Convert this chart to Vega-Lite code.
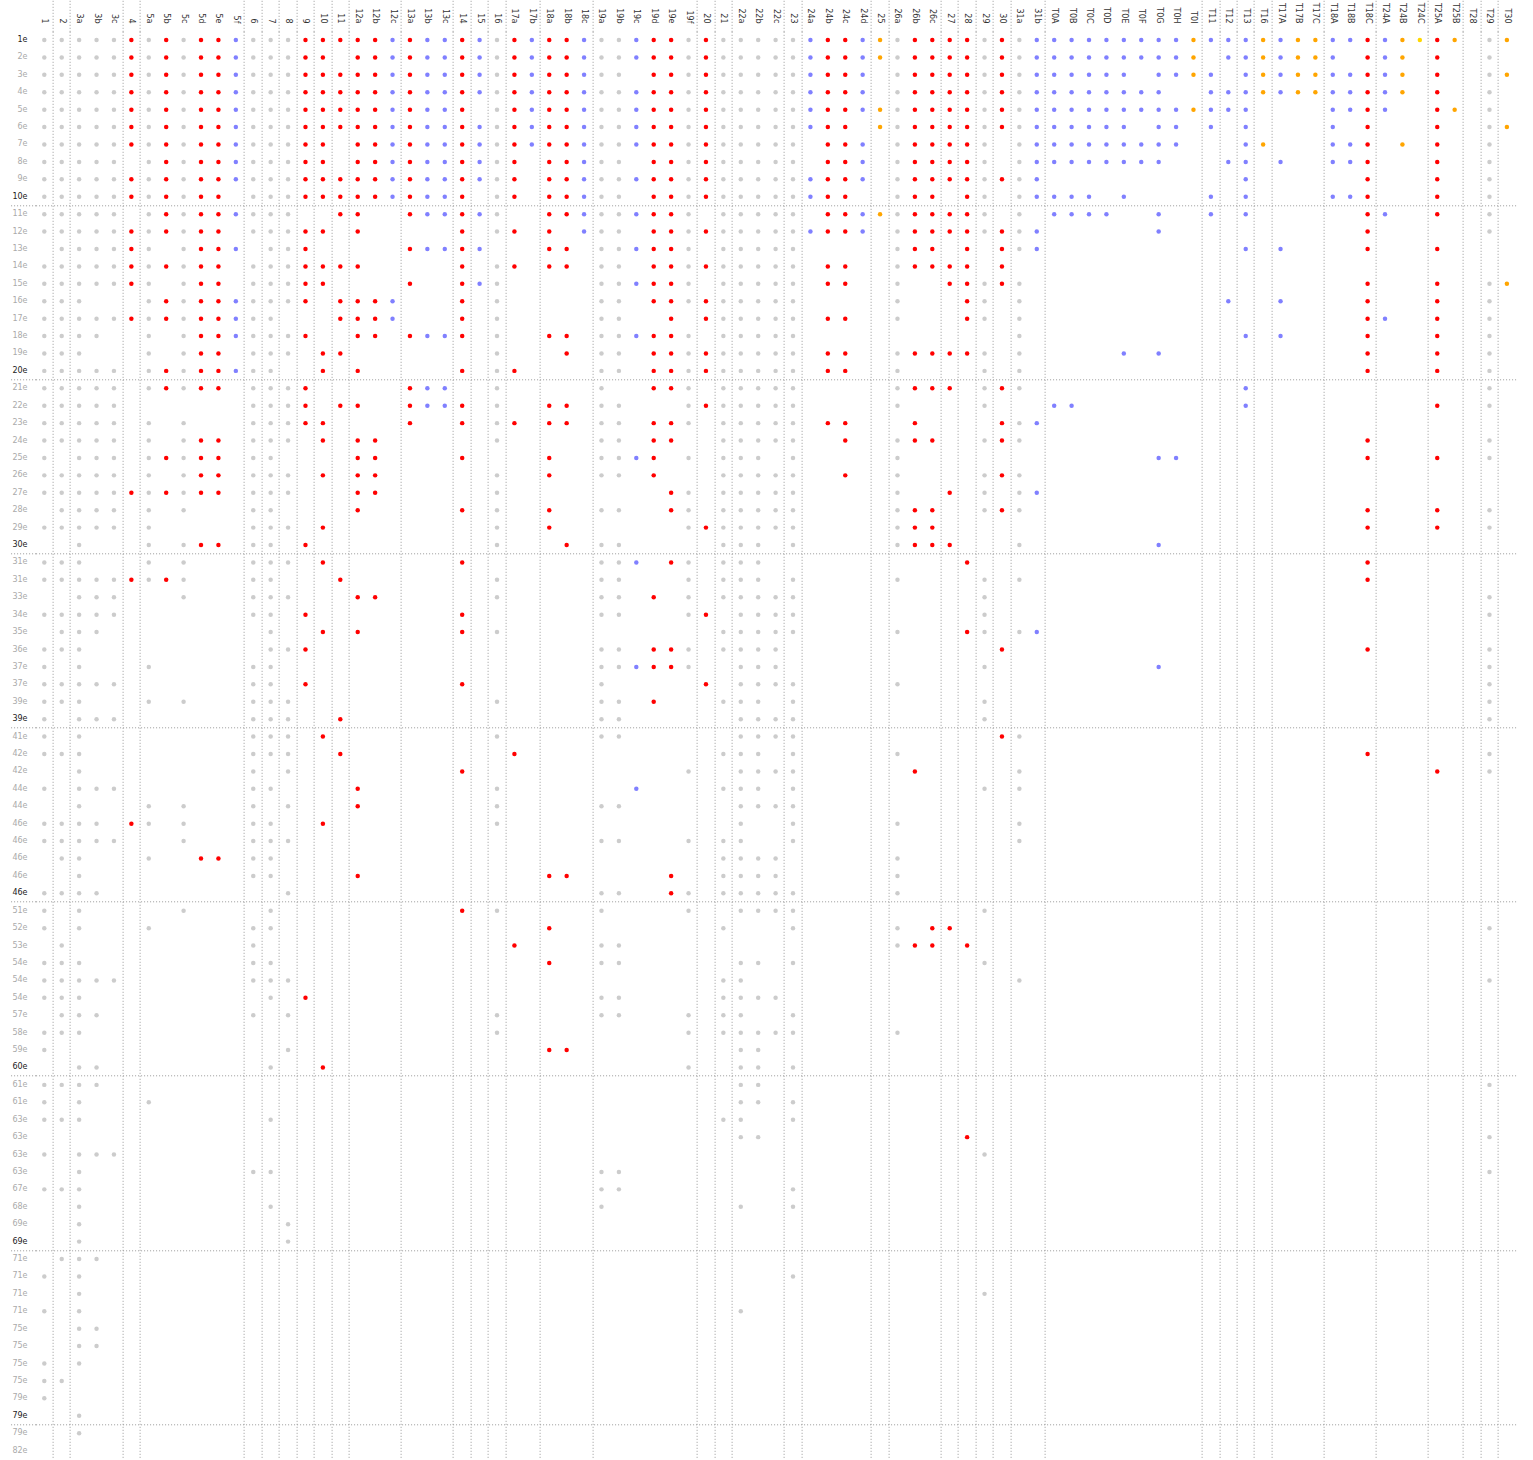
{
"$schema": "https://vega.github.io/schema/vega-lite/v6.json",
"width": 1480,
"height": 1428,
"autosize": "none",
"padding": {"left": 35.6, "top": 31.3, "right": 17.4, "bottom": 0.7},
"background": "white",
"config": {"view": {"stroke": null}},
"data": {"values": [
{"r":1,"c":"1","v":"g"},{"r":1,"c":"2","v":"g"},{"r":1,"c":"3a","v":"g"},{"r":1,"c":"3b","v":"g"},{"r":1,"c":"3c","v":"g"},{"r":1,"c":"4","v":"r"},{"r":1,"c":"5a","v":"g"},{"r":1,"c":"5b","v":"r"},{"r":1,"c":"5c","v":"g"},{"r":1,"c":"5d","v":"r"},{"r":1,"c":"5e","v":"r"},{"r":1,"c":"5f","v":"b"},{"r":1,"c":"6","v":"g"},{"r":1,"c":"7","v":"g"},{"r":1,"c":"8","v":"g"},{"r":1,"c":"9","v":"r"},{"r":1,"c":"10","v":"r"},{"r":1,"c":"11","v":"r"},{"r":1,"c":"12a","v":"r"},{"r":1,"c":"12b","v":"r"},{"r":1,"c":"12c","v":"b"},{"r":1,"c":"13a","v":"r"},{"r":1,"c":"13b","v":"b"},{"r":1,"c":"13c","v":"b"},{"r":1,"c":"14","v":"r"},{"r":1,"c":"15","v":"b"},{"r":1,"c":"16","v":"g"},{"r":1,"c":"17a","v":"r"},{"r":1,"c":"17b","v":"b"},{"r":1,"c":"18a","v":"r"},{"r":1,"c":"18b","v":"r"},{"r":1,"c":"18c","v":"b"},{"r":1,"c":"19a","v":"g"},{"r":1,"c":"19b","v":"g"},{"r":1,"c":"19c","v":"b"},{"r":1,"c":"19d","v":"r"},{"r":1,"c":"19e","v":"r"},{"r":1,"c":"19f","v":"g"},{"r":1,"c":"20","v":"r"},{"r":1,"c":"21","v":"g"},{"r":1,"c":"22a","v":"g"},{"r":1,"c":"22b","v":"g"},{"r":1,"c":"22c","v":"g"},{"r":1,"c":"23","v":"g"},{"r":1,"c":"24a","v":"b"},{"r":1,"c":"24b","v":"r"},{"r":1,"c":"24c","v":"r"},{"r":1,"c":"24d","v":"b"},{"r":1,"c":"25","v":"o"},{"r":1,"c":"26a","v":"g"},{"r":1,"c":"26b","v":"r"},{"r":1,"c":"26c","v":"r"},{"r":1,"c":"27","v":"r"},{"r":1,"c":"28","v":"r"},{"r":1,"c":"29","v":"g"},{"r":1,"c":"30","v":"r"},{"r":1,"c":"31a","v":"g"},{"r":1,"c":"31b","v":"b"},{"r":1,"c":"T0A","v":"b"},{"r":1,"c":"T0B","v":"b"},{"r":1,"c":"T0C","v":"b"},{"r":1,"c":"T0D","v":"b"},{"r":1,"c":"T0E","v":"b"},{"r":1,"c":"T0F","v":"b"},{"r":1,"c":"T0G","v":"b"},{"r":1,"c":"T0H","v":"b"},{"r":1,"c":"T0I","v":"o"},{"r":1,"c":"T11","v":"b"},{"r":1,"c":"T12","v":"b"},{"r":1,"c":"T13","v":"b"},{"r":1,"c":"T16","v":"o"},{"r":1,"c":"T17A","v":"b"},{"r":1,"c":"T17B","v":"o"},{"r":1,"c":"T17C","v":"o"},{"r":1,"c":"T18A","v":"b"},{"r":1,"c":"T18B","v":"b"},{"r":1,"c":"T18C","v":"r"},{"r":1,"c":"T24A","v":"b"},{"r":1,"c":"T24B","v":"o"},{"r":1,"c":"T24C","v":"y"},{"r":1,"c":"T25A","v":"r"},{"r":1,"c":"T25B","v":"o"},{"r":1,"c":"T29","v":"g"},{"r":1,"c":"T30","v":"o"},
{"r":2,"c":"1","v":"g"},{"r":2,"c":"2","v":"g"},{"r":2,"c":"3a","v":"g"},{"r":2,"c":"3b","v":"g"},{"r":2,"c":"3c","v":"g"},{"r":2,"c":"4","v":"r"},{"r":2,"c":"5a","v":"g"},{"r":2,"c":"5b","v":"r"},{"r":2,"c":"5c","v":"g"},{"r":2,"c":"5d","v":"r"},{"r":2,"c":"5e","v":"r"},{"r":2,"c":"5f","v":"b"},{"r":2,"c":"6","v":"g"},{"r":2,"c":"7","v":"g"},{"r":2,"c":"8","v":"g"},{"r":2,"c":"9","v":"r"},{"r":2,"c":"10","v":"r"},{"r":2,"c":"12a","v":"r"},{"r":2,"c":"12b","v":"r"},{"r":2,"c":"12c","v":"b"},{"r":2,"c":"13a","v":"r"},{"r":2,"c":"13b","v":"b"},{"r":2,"c":"13c","v":"b"},{"r":2,"c":"14","v":"r"},{"r":2,"c":"15","v":"b"},{"r":2,"c":"16","v":"g"},{"r":2,"c":"17a","v":"r"},{"r":2,"c":"17b","v":"b"},{"r":2,"c":"18a","v":"r"},{"r":2,"c":"18b","v":"r"},{"r":2,"c":"18c","v":"b"},{"r":2,"c":"19a","v":"g"},{"r":2,"c":"19b","v":"g"},{"r":2,"c":"19c","v":"b"},{"r":2,"c":"19d","v":"r"},{"r":2,"c":"19e","v":"r"},{"r":2,"c":"19f","v":"g"},{"r":2,"c":"20","v":"r"},{"r":2,"c":"21","v":"g"},{"r":2,"c":"22a","v":"g"},{"r":2,"c":"22b","v":"g"},{"r":2,"c":"22c","v":"g"},{"r":2,"c":"23","v":"g"},{"r":2,"c":"24a","v":"b"},{"r":2,"c":"24b","v":"r"},{"r":2,"c":"24c","v":"r"},{"r":2,"c":"24d","v":"b"},{"r":2,"c":"25","v":"o"},{"r":2,"c":"26a","v":"g"},{"r":2,"c":"26b","v":"r"},{"r":2,"c":"26c","v":"r"},{"r":2,"c":"27","v":"r"},{"r":2,"c":"28","v":"r"},{"r":2,"c":"29","v":"g"},{"r":2,"c":"30","v":"r"},{"r":2,"c":"31a","v":"g"},{"r":2,"c":"31b","v":"b"},{"r":2,"c":"T0A","v":"b"},{"r":2,"c":"T0B","v":"b"},{"r":2,"c":"T0C","v":"b"},{"r":2,"c":"T0D","v":"b"},{"r":2,"c":"T0E","v":"b"},{"r":2,"c":"T0F","v":"b"},{"r":2,"c":"T0G","v":"b"},{"r":2,"c":"T0H","v":"b"},{"r":2,"c":"T0I","v":"o"},{"r":2,"c":"T12","v":"b"},{"r":2,"c":"T13","v":"b"},{"r":2,"c":"T16","v":"o"},{"r":2,"c":"T17A","v":"b"},{"r":2,"c":"T17B","v":"o"},{"r":2,"c":"T17C","v":"o"},{"r":2,"c":"T18A","v":"b"},{"r":2,"c":"T18C","v":"r"},{"r":2,"c":"T24A","v":"b"},{"r":2,"c":"T24B","v":"o"},{"r":2,"c":"T25A","v":"r"},{"r":2,"c":"T29","v":"g"},
{"r":3,"c":"1","v":"g"},{"r":3,"c":"2","v":"g"},{"r":3,"c":"3a","v":"g"},{"r":3,"c":"3b","v":"g"},{"r":3,"c":"3c","v":"g"},{"r":3,"c":"4","v":"r"},{"r":3,"c":"5a","v":"g"},{"r":3,"c":"5b","v":"r"},{"r":3,"c":"5c","v":"g"},{"r":3,"c":"5d","v":"r"},{"r":3,"c":"5e","v":"r"},{"r":3,"c":"5f","v":"b"},{"r":3,"c":"6","v":"g"},{"r":3,"c":"7","v":"g"},{"r":3,"c":"8","v":"g"},{"r":3,"c":"9","v":"r"},{"r":3,"c":"10","v":"r"},{"r":3,"c":"11","v":"r"},{"r":3,"c":"12a","v":"r"},{"r":3,"c":"12b","v":"r"},{"r":3,"c":"12c","v":"b"},{"r":3,"c":"13a","v":"r"},{"r":3,"c":"13b","v":"b"},{"r":3,"c":"13c","v":"b"},{"r":3,"c":"14","v":"r"},{"r":3,"c":"15","v":"b"},{"r":3,"c":"16","v":"g"},{"r":3,"c":"17a","v":"r"},{"r":3,"c":"17b","v":"b"},{"r":3,"c":"18a","v":"r"},{"r":3,"c":"18b","v":"r"},{"r":3,"c":"18c","v":"b"},{"r":3,"c":"19a","v":"g"},{"r":3,"c":"19b","v":"g"},{"r":3,"c":"19d","v":"r"},{"r":3,"c":"19e","v":"r"},{"r":3,"c":"19f","v":"g"},{"r":3,"c":"20","v":"r"},{"r":3,"c":"21","v":"g"},{"r":3,"c":"22a","v":"g"},{"r":3,"c":"22b","v":"g"},{"r":3,"c":"22c","v":"g"},{"r":3,"c":"23","v":"g"},{"r":3,"c":"24a","v":"b"},{"r":3,"c":"24b","v":"r"},{"r":3,"c":"24c","v":"r"},{"r":3,"c":"24d","v":"b"},{"r":3,"c":"26a","v":"g"},{"r":3,"c":"26b","v":"r"},{"r":3,"c":"26c","v":"r"},{"r":3,"c":"27","v":"r"},{"r":3,"c":"28","v":"r"},{"r":3,"c":"29","v":"g"},{"r":3,"c":"30","v":"r"},{"r":3,"c":"31a","v":"g"},{"r":3,"c":"31b","v":"b"},{"r":3,"c":"T0A","v":"b"},{"r":3,"c":"T0B","v":"b"},{"r":3,"c":"T0C","v":"b"},{"r":3,"c":"T0D","v":"b"},{"r":3,"c":"T0E","v":"b"},{"r":3,"c":"T0G","v":"b"},{"r":3,"c":"T0H","v":"b"},{"r":3,"c":"T0I","v":"o"},{"r":3,"c":"T11","v":"b"},{"r":3,"c":"T13","v":"b"},{"r":3,"c":"T16","v":"o"},{"r":3,"c":"T17A","v":"b"},{"r":3,"c":"T17B","v":"o"},{"r":3,"c":"T17C","v":"o"},{"r":3,"c":"T18A","v":"b"},{"r":3,"c":"T18B","v":"b"},{"r":3,"c":"T18C","v":"r"},{"r":3,"c":"T24A","v":"b"},{"r":3,"c":"T24B","v":"o"},{"r":3,"c":"T25A","v":"r"},{"r":3,"c":"T29","v":"g"},{"r":3,"c":"T30","v":"o"},
{"r":4,"c":"1","v":"g"},{"r":4,"c":"2","v":"g"},{"r":4,"c":"3a","v":"g"},{"r":4,"c":"3b","v":"g"},{"r":4,"c":"3c","v":"g"},{"r":4,"c":"4","v":"r"},{"r":4,"c":"5a","v":"g"},{"r":4,"c":"5b","v":"r"},{"r":4,"c":"5c","v":"g"},{"r":4,"c":"5d","v":"r"},{"r":4,"c":"5e","v":"r"},{"r":4,"c":"5f","v":"b"},{"r":4,"c":"6","v":"g"},{"r":4,"c":"7","v":"g"},{"r":4,"c":"8","v":"g"},{"r":4,"c":"9","v":"r"},{"r":4,"c":"10","v":"r"},{"r":4,"c":"11","v":"r"},{"r":4,"c":"12a","v":"r"},{"r":4,"c":"12b","v":"r"},{"r":4,"c":"12c","v":"b"},{"r":4,"c":"13a","v":"r"},{"r":4,"c":"13b","v":"b"},{"r":4,"c":"13c","v":"b"},{"r":4,"c":"14","v":"r"},{"r":4,"c":"15","v":"b"},{"r":4,"c":"16","v":"g"},{"r":4,"c":"17a","v":"r"},{"r":4,"c":"17b","v":"b"},{"r":4,"c":"18a","v":"r"},{"r":4,"c":"18b","v":"r"},{"r":4,"c":"18c","v":"b"},{"r":4,"c":"19a","v":"g"},{"r":4,"c":"19b","v":"g"},{"r":4,"c":"19c","v":"b"},{"r":4,"c":"19d","v":"r"},{"r":4,"c":"19e","v":"r"},{"r":4,"c":"19f","v":"g"},{"r":4,"c":"20","v":"r"},{"r":4,"c":"21","v":"g"},{"r":4,"c":"22a","v":"g"},{"r":4,"c":"22b","v":"g"},{"r":4,"c":"22c","v":"g"},{"r":4,"c":"23","v":"g"},{"r":4,"c":"24a","v":"b"},{"r":4,"c":"24b","v":"r"},{"r":4,"c":"24c","v":"r"},{"r":4,"c":"24d","v":"b"},{"r":4,"c":"26a","v":"g"},{"r":4,"c":"26b","v":"r"},{"r":4,"c":"26c","v":"r"},{"r":4,"c":"27","v":"r"},{"r":4,"c":"28","v":"r"},{"r":4,"c":"29","v":"g"},{"r":4,"c":"30","v":"r"},{"r":4,"c":"31a","v":"g"},{"r":4,"c":"31b","v":"b"},{"r":4,"c":"T0A","v":"b"},{"r":4,"c":"T0B","v":"b"},{"r":4,"c":"T0C","v":"b"},{"r":4,"c":"T0D","v":"b"},{"r":4,"c":"T0E","v":"b"},{"r":4,"c":"T0F","v":"b"},{"r":4,"c":"T0G","v":"b"},{"r":4,"c":"T11","v":"b"},{"r":4,"c":"T12","v":"b"},{"r":4,"c":"T13","v":"b"},{"r":4,"c":"T16","v":"o"},{"r":4,"c":"T17A","v":"b"},{"r":4,"c":"T17B","v":"o"},{"r":4,"c":"T17C","v":"o"},{"r":4,"c":"T18A","v":"b"},{"r":4,"c":"T18B","v":"b"},{"r":4,"c":"T18C","v":"r"},{"r":4,"c":"T24A","v":"b"},{"r":4,"c":"T24B","v":"o"},{"r":4,"c":"T25A","v":"r"},{"r":4,"c":"T29","v":"g"},
{"r":5,"c":"1","v":"g"},{"r":5,"c":"2","v":"g"},{"r":5,"c":"3a","v":"g"},{"r":5,"c":"3b","v":"g"},{"r":5,"c":"3c","v":"g"},{"r":5,"c":"4","v":"r"},{"r":5,"c":"5a","v":"g"},{"r":5,"c":"5b","v":"r"},{"r":5,"c":"5c","v":"g"},{"r":5,"c":"5d","v":"r"},{"r":5,"c":"5e","v":"r"},{"r":5,"c":"5f","v":"b"},{"r":5,"c":"6","v":"g"},{"r":5,"c":"7","v":"g"},{"r":5,"c":"8","v":"g"},{"r":5,"c":"9","v":"r"},{"r":5,"c":"10","v":"r"},{"r":5,"c":"11","v":"r"},{"r":5,"c":"12a","v":"r"},{"r":5,"c":"12b","v":"r"},{"r":5,"c":"12c","v":"b"},{"r":5,"c":"13a","v":"r"},{"r":5,"c":"13b","v":"b"},{"r":5,"c":"13c","v":"b"},{"r":5,"c":"14","v":"r"},{"r":5,"c":"16","v":"g"},{"r":5,"c":"17a","v":"r"},{"r":5,"c":"17b","v":"b"},{"r":5,"c":"18a","v":"r"},{"r":5,"c":"18b","v":"r"},{"r":5,"c":"18c","v":"b"},{"r":5,"c":"19a","v":"g"},{"r":5,"c":"19b","v":"g"},{"r":5,"c":"19c","v":"b"},{"r":5,"c":"19d","v":"r"},{"r":5,"c":"19e","v":"r"},{"r":5,"c":"19f","v":"g"},{"r":5,"c":"20","v":"r"},{"r":5,"c":"21","v":"g"},{"r":5,"c":"22a","v":"g"},{"r":5,"c":"22b","v":"g"},{"r":5,"c":"22c","v":"g"},{"r":5,"c":"23","v":"g"},{"r":5,"c":"24a","v":"b"},{"r":5,"c":"24b","v":"r"},{"r":5,"c":"24c","v":"r"},{"r":5,"c":"24d","v":"b"},{"r":5,"c":"25","v":"o"},{"r":5,"c":"26a","v":"g"},{"r":5,"c":"26b","v":"r"},{"r":5,"c":"26c","v":"r"},{"r":5,"c":"27","v":"r"},{"r":5,"c":"28","v":"r"},{"r":5,"c":"29","v":"g"},{"r":5,"c":"30","v":"r"},{"r":5,"c":"31a","v":"g"},{"r":5,"c":"31b","v":"b"},{"r":5,"c":"T0A","v":"b"},{"r":5,"c":"T0B","v":"b"},{"r":5,"c":"T0C","v":"b"},{"r":5,"c":"T0D","v":"b"},{"r":5,"c":"T0E","v":"b"},{"r":5,"c":"T0F","v":"b"},{"r":5,"c":"T0G","v":"b"},{"r":5,"c":"T0H","v":"b"},{"r":5,"c":"T0I","v":"o"},{"r":5,"c":"T11","v":"b"},{"r":5,"c":"T12","v":"b"},{"r":5,"c":"T13","v":"b"},{"r":5,"c":"T18A","v":"b"},{"r":5,"c":"T18B","v":"b"},{"r":5,"c":"T18C","v":"r"},{"r":5,"c":"T24A","v":"b"},{"r":5,"c":"T25A","v":"r"},{"r":5,"c":"T25B","v":"o"},{"r":5,"c":"T29","v":"g"},
{"r":6,"c":"1","v":"g"},{"r":6,"c":"2","v":"g"},{"r":6,"c":"3a","v":"g"},{"r":6,"c":"3b","v":"g"},{"r":6,"c":"3c","v":"g"},{"r":6,"c":"4","v":"r"},{"r":6,"c":"5a","v":"g"},{"r":6,"c":"5b","v":"r"},{"r":6,"c":"5c","v":"g"},{"r":6,"c":"5d","v":"r"},{"r":6,"c":"5e","v":"r"},{"r":6,"c":"5f","v":"b"},{"r":6,"c":"6","v":"g"},{"r":6,"c":"7","v":"g"},{"r":6,"c":"8","v":"g"},{"r":6,"c":"9","v":"r"},{"r":6,"c":"10","v":"r"},{"r":6,"c":"11","v":"r"},{"r":6,"c":"12a","v":"r"},{"r":6,"c":"12b","v":"r"},{"r":6,"c":"12c","v":"b"},{"r":6,"c":"13a","v":"r"},{"r":6,"c":"13b","v":"b"},{"r":6,"c":"13c","v":"b"},{"r":6,"c":"14","v":"r"},{"r":6,"c":"15","v":"b"},{"r":6,"c":"16","v":"g"},{"r":6,"c":"17a","v":"r"},{"r":6,"c":"17b","v":"b"},{"r":6,"c":"18a","v":"r"},{"r":6,"c":"18b","v":"r"},{"r":6,"c":"18c","v":"b"},{"r":6,"c":"19a","v":"g"},{"r":6,"c":"19b","v":"g"},{"r":6,"c":"19c","v":"b"},{"r":6,"c":"19d","v":"r"},{"r":6,"c":"19e","v":"r"},{"r":6,"c":"19f","v":"g"},{"r":6,"c":"20","v":"r"},{"r":6,"c":"21","v":"g"},{"r":6,"c":"22a","v":"g"},{"r":6,"c":"22b","v":"g"},{"r":6,"c":"22c","v":"g"},{"r":6,"c":"23","v":"g"},{"r":6,"c":"24a","v":"b"},{"r":6,"c":"24b","v":"r"},{"r":6,"c":"24c","v":"r"},{"r":6,"c":"25","v":"o"},{"r":6,"c":"26a","v":"g"},{"r":6,"c":"26b","v":"r"},{"r":6,"c":"26c","v":"r"},{"r":6,"c":"27","v":"r"},{"r":6,"c":"28","v":"r"},{"r":6,"c":"29","v":"g"},{"r":6,"c":"30","v":"r"},{"r":6,"c":"31a","v":"g"},{"r":6,"c":"31b","v":"b"},{"r":6,"c":"T0A","v":"b"},{"r":6,"c":"T0B","v":"b"},{"r":6,"c":"T0C","v":"b"},{"r":6,"c":"T0D","v":"b"},{"r":6,"c":"T0E","v":"b"},{"r":6,"c":"T0G","v":"b"},{"r":6,"c":"T0H","v":"b"},{"r":6,"c":"T11","v":"b"},{"r":6,"c":"T13","v":"b"},{"r":6,"c":"T18A","v":"b"},{"r":6,"c":"T18C","v":"r"},{"r":6,"c":"T25A","v":"r"},{"r":6,"c":"T29","v":"g"},{"r":6,"c":"T30","v":"o"},
{"r":7,"c":"1","v":"g"},{"r":7,"c":"2","v":"g"},{"r":7,"c":"3a","v":"g"},{"r":7,"c":"3b","v":"g"},{"r":7,"c":"3c","v":"g"},{"r":7,"c":"4","v":"r"},{"r":7,"c":"5a","v":"g"},{"r":7,"c":"5b","v":"r"},{"r":7,"c":"5c","v":"g"},{"r":7,"c":"5d","v":"r"},{"r":7,"c":"5e","v":"r"},{"r":7,"c":"5f","v":"b"},{"r":7,"c":"6","v":"g"},{"r":7,"c":"7","v":"g"},{"r":7,"c":"8","v":"g"},{"r":7,"c":"9","v":"r"},{"r":7,"c":"10","v":"r"},{"r":7,"c":"12a","v":"r"},{"r":7,"c":"12b","v":"r"},{"r":7,"c":"12c","v":"b"},{"r":7,"c":"13a","v":"r"},{"r":7,"c":"13b","v":"b"},{"r":7,"c":"13c","v":"b"},{"r":7,"c":"14","v":"r"},{"r":7,"c":"15","v":"b"},{"r":7,"c":"16","v":"g"},{"r":7,"c":"17a","v":"r"},{"r":7,"c":"17b","v":"b"},{"r":7,"c":"18a","v":"r"},{"r":7,"c":"18b","v":"r"},{"r":7,"c":"18c","v":"b"},{"r":7,"c":"19a","v":"g"},{"r":7,"c":"19b","v":"g"},{"r":7,"c":"19c","v":"b"},{"r":7,"c":"19d","v":"r"},{"r":7,"c":"19e","v":"r"},{"r":7,"c":"19f","v":"g"},{"r":7,"c":"20","v":"r"},{"r":7,"c":"21","v":"g"},{"r":7,"c":"22a","v":"g"},{"r":7,"c":"22b","v":"g"},{"r":7,"c":"22c","v":"g"},{"r":7,"c":"23","v":"g"},{"r":7,"c":"24b","v":"r"},{"r":7,"c":"24c","v":"r"},{"r":7,"c":"24d","v":"b"},{"r":7,"c":"26a","v":"g"},{"r":7,"c":"26b","v":"r"},{"r":7,"c":"26c","v":"r"},{"r":7,"c":"27","v":"r"},{"r":7,"c":"28","v":"r"},{"r":7,"c":"29","v":"g"},{"r":7,"c":"31a","v":"g"},{"r":7,"c":"31b","v":"b"},{"r":7,"c":"T0A","v":"b"},{"r":7,"c":"T0B","v":"b"},{"r":7,"c":"T0C","v":"b"},{"r":7,"c":"T0D","v":"b"},{"r":7,"c":"T0E","v":"b"},{"r":7,"c":"T0F","v":"b"},{"r":7,"c":"T0G","v":"b"},{"r":7,"c":"T0H","v":"b"},{"r":7,"c":"T13","v":"b"},{"r":7,"c":"T16","v":"o"},{"r":7,"c":"T18A","v":"b"},{"r":7,"c":"T18B","v":"b"},{"r":7,"c":"T18C","v":"r"},{"r":7,"c":"T24B","v":"o"},{"r":7,"c":"T25A","v":"r"},{"r":7,"c":"T29","v":"g"},
{"r":8,"c":"1","v":"g"},{"r":8,"c":"2","v":"g"},{"r":8,"c":"3a","v":"g"},{"r":8,"c":"3b","v":"g"},{"r":8,"c":"3c","v":"g"},{"r":8,"c":"5a","v":"g"},{"r":8,"c":"5b","v":"r"},{"r":8,"c":"5c","v":"g"},{"r":8,"c":"5d","v":"r"},{"r":8,"c":"5e","v":"r"},{"r":8,"c":"5f","v":"b"},{"r":8,"c":"6","v":"g"},{"r":8,"c":"7","v":"g"},{"r":8,"c":"8","v":"g"},{"r":8,"c":"9","v":"r"},{"r":8,"c":"10","v":"r"},{"r":8,"c":"12a","v":"r"},{"r":8,"c":"12b","v":"r"},{"r":8,"c":"12c","v":"b"},{"r":8,"c":"13a","v":"r"},{"r":8,"c":"13b","v":"b"},{"r":8,"c":"13c","v":"b"},{"r":8,"c":"14","v":"r"},{"r":8,"c":"15","v":"b"},{"r":8,"c":"16","v":"g"},{"r":8,"c":"17a","v":"r"},{"r":8,"c":"18a","v":"r"},{"r":8,"c":"18b","v":"r"},{"r":8,"c":"18c","v":"b"},{"r":8,"c":"19a","v":"g"},{"r":8,"c":"19b","v":"g"},{"r":8,"c":"19d","v":"r"},{"r":8,"c":"19e","v":"r"},{"r":8,"c":"19f","v":"g"},{"r":8,"c":"20","v":"r"},{"r":8,"c":"21","v":"g"},{"r":8,"c":"22a","v":"g"},{"r":8,"c":"22b","v":"g"},{"r":8,"c":"22c","v":"g"},{"r":8,"c":"23","v":"g"},{"r":8,"c":"24b","v":"r"},{"r":8,"c":"24c","v":"r"},{"r":8,"c":"24d","v":"b"},{"r":8,"c":"26a","v":"g"},{"r":8,"c":"26b","v":"r"},{"r":8,"c":"26c","v":"r"},{"r":8,"c":"27","v":"r"},{"r":8,"c":"28","v":"r"},{"r":8,"c":"29","v":"g"},{"r":8,"c":"31a","v":"g"},{"r":8,"c":"31b","v":"b"},{"r":8,"c":"T0A","v":"b"},{"r":8,"c":"T0B","v":"b"},{"r":8,"c":"T0C","v":"b"},{"r":8,"c":"T0D","v":"b"},{"r":8,"c":"T0E","v":"b"},{"r":8,"c":"T0F","v":"b"},{"r":8,"c":"T0G","v":"b"},{"r":8,"c":"T12","v":"b"},{"r":8,"c":"T13","v":"b"},{"r":8,"c":"T17A","v":"b"},{"r":8,"c":"T18A","v":"b"},{"r":8,"c":"T18B","v":"b"},{"r":8,"c":"T18C","v":"r"},{"r":8,"c":"T25A","v":"r"},{"r":8,"c":"T29","v":"g"},
{"r":9,"c":"1","v":"g"},{"r":9,"c":"2","v":"g"},{"r":9,"c":"3a","v":"g"},{"r":9,"c":"3b","v":"g"},{"r":9,"c":"3c","v":"g"},{"r":9,"c":"4","v":"r"},{"r":9,"c":"5a","v":"g"},{"r":9,"c":"5b","v":"r"},{"r":9,"c":"5c","v":"g"},{"r":9,"c":"5d","v":"r"},{"r":9,"c":"5e","v":"r"},{"r":9,"c":"5f","v":"b"},{"r":9,"c":"6","v":"g"},{"r":9,"c":"7","v":"g"},{"r":9,"c":"8","v":"g"},{"r":9,"c":"9","v":"r"},{"r":9,"c":"10","v":"r"},{"r":9,"c":"11","v":"r"},{"r":9,"c":"12a","v":"r"},{"r":9,"c":"12b","v":"r"},{"r":9,"c":"12c","v":"b"},{"r":9,"c":"13a","v":"r"},{"r":9,"c":"13b","v":"b"},{"r":9,"c":"13c","v":"b"},{"r":9,"c":"14","v":"r"},{"r":9,"c":"15","v":"b"},{"r":9,"c":"16","v":"g"},{"r":9,"c":"17a","v":"r"},{"r":9,"c":"18a","v":"r"},{"r":9,"c":"18b","v":"r"},{"r":9,"c":"18c","v":"b"},{"r":9,"c":"19a","v":"g"},{"r":9,"c":"19b","v":"g"},{"r":9,"c":"19c","v":"b"},{"r":9,"c":"19d","v":"r"},{"r":9,"c":"19e","v":"r"},{"r":9,"c":"19f","v":"g"},{"r":9,"c":"20","v":"r"},{"r":9,"c":"21","v":"g"},{"r":9,"c":"22a","v":"g"},{"r":9,"c":"22b","v":"g"},{"r":9,"c":"22c","v":"g"},{"r":9,"c":"23","v":"g"},{"r":9,"c":"24a","v":"b"},{"r":9,"c":"24b","v":"r"},{"r":9,"c":"24c","v":"r"},{"r":9,"c":"24d","v":"b"},{"r":9,"c":"26a","v":"g"},{"r":9,"c":"26b","v":"r"},{"r":9,"c":"26c","v":"r"},{"r":9,"c":"27","v":"r"},{"r":9,"c":"28","v":"r"},{"r":9,"c":"29","v":"g"},{"r":9,"c":"30","v":"r"},{"r":9,"c":"31a","v":"g"},{"r":9,"c":"31b","v":"b"},{"r":9,"c":"T13","v":"b"},{"r":9,"c":"T18C","v":"r"},{"r":9,"c":"T25A","v":"r"},{"r":9,"c":"T29","v":"g"},
{"r":10,"c":"1","v":"g"},{"r":10,"c":"2","v":"g"},{"r":10,"c":"3a","v":"g"},{"r":10,"c":"3b","v":"g"},{"r":10,"c":"3c","v":"g"},{"r":10,"c":"4","v":"r"},{"r":10,"c":"5a","v":"g"},{"r":10,"c":"5b","v":"r"},{"r":10,"c":"5c","v":"g"},{"r":10,"c":"5d","v":"r"},{"r":10,"c":"5e","v":"r"},{"r":10,"c":"6","v":"g"},{"r":10,"c":"7","v":"g"},{"r":10,"c":"8","v":"g"},{"r":10,"c":"9","v":"r"},{"r":10,"c":"10","v":"r"},{"r":10,"c":"11","v":"r"},{"r":10,"c":"12a","v":"r"},{"r":10,"c":"12b","v":"r"},{"r":10,"c":"12c","v":"b"},{"r":10,"c":"13a","v":"r"},{"r":10,"c":"13b","v":"b"},{"r":10,"c":"13c","v":"b"},{"r":10,"c":"14","v":"r"},{"r":10,"c":"16","v":"g"},{"r":10,"c":"17a","v":"r"},{"r":10,"c":"18a","v":"r"},{"r":10,"c":"18b","v":"r"},{"r":10,"c":"18c","v":"b"},{"r":10,"c":"19a","v":"g"},{"r":10,"c":"19b","v":"g"},{"r":10,"c":"19d","v":"r"},{"r":10,"c":"19e","v":"r"},{"r":10,"c":"19f","v":"g"},{"r":10,"c":"20","v":"r"},{"r":10,"c":"21","v":"g"},{"r":10,"c":"22a","v":"g"},{"r":10,"c":"22b","v":"g"},{"r":10,"c":"22c","v":"g"},{"r":10,"c":"23","v":"g"},{"r":10,"c":"24a","v":"b"},{"r":10,"c":"24b","v":"r"},{"r":10,"c":"24c","v":"r"},{"r":10,"c":"26a","v":"g"},{"r":10,"c":"26b","v":"r"},{"r":10,"c":"26c","v":"r"},{"r":10,"c":"28","v":"r"},{"r":10,"c":"29","v":"g"},{"r":10,"c":"31a","v":"g"},{"r":10,"c":"31b","v":"b"},{"r":10,"c":"T0A","v":"b"},{"r":10,"c":"T0B","v":"b"},{"r":10,"c":"T0C","v":"b"},{"r":10,"c":"T0E","v":"b"},{"r":10,"c":"T11","v":"b"},{"r":10,"c":"T13","v":"b"},{"r":10,"c":"T18A","v":"b"},{"r":10,"c":"T18B","v":"b"},{"r":10,"c":"T18C","v":"r"},{"r":10,"c":"T25A","v":"r"},{"r":10,"c":"T29","v":"g"},
{"r":11,"c":"1","v":"g"},{"r":11,"c":"2","v":"g"},{"r":11,"c":"3a","v":"g"},{"r":11,"c":"3b","v":"g"},{"r":11,"c":"3c","v":"g"},{"r":11,"c":"5a","v":"g"},{"r":11,"c":"5b","v":"r"},{"r":11,"c":"5c","v":"g"},{"r":11,"c":"5d","v":"r"},{"r":11,"c":"5e","v":"r"},{"r":11,"c":"5f","v":"b"},{"r":11,"c":"6","v":"g"},{"r":11,"c":"7","v":"g"},{"r":11,"c":"8","v":"g"},{"r":11,"c":"11","v":"r"},{"r":11,"c":"12a","v":"r"},{"r":11,"c":"13a","v":"r"},{"r":11,"c":"13b","v":"b"},{"r":11,"c":"13c","v":"b"},{"r":11,"c":"14","v":"r"},{"r":11,"c":"15","v":"b"},{"r":11,"c":"16","v":"g"},{"r":11,"c":"18a","v":"r"},{"r":11,"c":"18b","v":"r"},{"r":11,"c":"18c","v":"b"},{"r":11,"c":"19a","v":"g"},{"r":11,"c":"19b","v":"g"},{"r":11,"c":"19c","v":"b"},{"r":11,"c":"19d","v":"r"},{"r":11,"c":"19e","v":"r"},{"r":11,"c":"19f","v":"g"},{"r":11,"c":"21","v":"g"},{"r":11,"c":"22a","v":"g"},{"r":11,"c":"22b","v":"g"},{"r":11,"c":"22c","v":"g"},{"r":11,"c":"23","v":"g"},{"r":11,"c":"24b","v":"r"},{"r":11,"c":"24c","v":"r"},{"r":11,"c":"24d","v":"b"},{"r":11,"c":"25","v":"o"},{"r":11,"c":"26a","v":"g"},{"r":11,"c":"26b","v":"r"},{"r":11,"c":"26c","v":"r"},{"r":11,"c":"27","v":"r"},{"r":11,"c":"28","v":"r"},{"r":11,"c":"29","v":"g"},{"r":11,"c":"31a","v":"g"},{"r":11,"c":"T0A","v":"b"},{"r":11,"c":"T0B","v":"b"},{"r":11,"c":"T0C","v":"b"},{"r":11,"c":"T0D","v":"b"},{"r":11,"c":"T0G","v":"b"},{"r":11,"c":"T11","v":"b"},{"r":11,"c":"T13","v":"b"},{"r":11,"c":"T18C","v":"r"},{"r":11,"c":"T24A","v":"b"},{"r":11,"c":"T25A","v":"r"},{"r":11,"c":"T29","v":"g"},
{"r":12,"c":"1","v":"g"},{"r":12,"c":"2","v":"g"},{"r":12,"c":"3a","v":"g"},{"r":12,"c":"3b","v":"g"},{"r":12,"c":"3c","v":"g"},{"r":12,"c":"4","v":"r"},{"r":12,"c":"5a","v":"g"},{"r":12,"c":"5b","v":"r"},{"r":12,"c":"5c","v":"g"},{"r":12,"c":"5d","v":"r"},{"r":12,"c":"5e","v":"r"},{"r":12,"c":"6","v":"g"},{"r":12,"c":"7","v":"g"},{"r":12,"c":"8","v":"g"},{"r":12,"c":"9","v":"r"},{"r":12,"c":"10","v":"r"},{"r":12,"c":"12a","v":"r"},{"r":12,"c":"14","v":"r"},{"r":12,"c":"16","v":"g"},{"r":12,"c":"17a","v":"r"},{"r":12,"c":"18a","v":"r"},{"r":12,"c":"18c","v":"b"},{"r":12,"c":"19a","v":"g"},{"r":12,"c":"19b","v":"g"},{"r":12,"c":"19d","v":"r"},{"r":12,"c":"19e","v":"r"},{"r":12,"c":"19f","v":"g"},{"r":12,"c":"20","v":"r"},{"r":12,"c":"21","v":"g"},{"r":12,"c":"22a","v":"g"},{"r":12,"c":"22b","v":"g"},{"r":12,"c":"22c","v":"g"},{"r":12,"c":"23","v":"g"},{"r":12,"c":"24a","v":"b"},{"r":12,"c":"24b","v":"r"},{"r":12,"c":"24c","v":"r"},{"r":12,"c":"24d","v":"b"},{"r":12,"c":"26a","v":"g"},{"r":12,"c":"26b","v":"r"},{"r":12,"c":"26c","v":"r"},{"r":12,"c":"27","v":"r"},{"r":12,"c":"28","v":"r"},{"r":12,"c":"29","v":"g"},{"r":12,"c":"30","v":"r"},{"r":12,"c":"31a","v":"g"},{"r":12,"c":"31b","v":"b"},{"r":12,"c":"T0G","v":"b"},{"r":12,"c":"T18C","v":"r"},{"r":12,"c":"T29","v":"g"},
{"r":13,"c":"2","v":"g"},{"r":13,"c":"3a","v":"g"},{"r":13,"c":"3b","v":"g"},{"r":13,"c":"3c","v":"g"},{"r":13,"c":"4","v":"r"},{"r":13,"c":"5a","v":"g"},{"r":13,"c":"5c","v":"g"},{"r":13,"c":"5d","v":"r"},{"r":13,"c":"5e","v":"r"},{"r":13,"c":"5f","v":"b"},{"r":13,"c":"7","v":"g"},{"r":13,"c":"8","v":"g"},{"r":13,"c":"9","v":"r"},{"r":13,"c":"13a","v":"r"},{"r":13,"c":"13b","v":"b"},{"r":13,"c":"13c","v":"b"},{"r":13,"c":"14","v":"r"},{"r":13,"c":"15","v":"b"},{"r":13,"c":"18a","v":"r"},{"r":13,"c":"18b","v":"r"},{"r":13,"c":"19a","v":"g"},{"r":13,"c":"19b","v":"g"},{"r":13,"c":"19c","v":"b"},{"r":13,"c":"19d","v":"r"},{"r":13,"c":"19e","v":"r"},{"r":13,"c":"19f","v":"g"},{"r":13,"c":"21","v":"g"},{"r":13,"c":"22a","v":"g"},{"r":13,"c":"22b","v":"g"},{"r":13,"c":"22c","v":"g"},{"r":13,"c":"23","v":"g"},{"r":13,"c":"26a","v":"g"},{"r":13,"c":"26b","v":"r"},{"r":13,"c":"26c","v":"r"},{"r":13,"c":"28","v":"r"},{"r":13,"c":"30","v":"r"},{"r":13,"c":"31a","v":"g"},{"r":13,"c":"31b","v":"b"},{"r":13,"c":"T13","v":"b"},{"r":13,"c":"T17A","v":"b"},{"r":13,"c":"T18C","v":"r"},{"r":13,"c":"T25A","v":"r"},
{"r":14,"c":"1","v":"g"},{"r":14,"c":"2","v":"g"},{"r":14,"c":"3a","v":"g"},{"r":14,"c":"3b","v":"g"},{"r":14,"c":"3c","v":"g"},{"r":14,"c":"4","v":"r"},{"r":14,"c":"5a","v":"g"},{"r":14,"c":"5b","v":"r"},{"r":14,"c":"5c","v":"g"},{"r":14,"c":"5d","v":"r"},{"r":14,"c":"5e","v":"r"},{"r":14,"c":"6","v":"g"},{"r":14,"c":"7","v":"g"},{"r":14,"c":"8","v":"g"},{"r":14,"c":"9","v":"r"},{"r":14,"c":"10","v":"r"},{"r":14,"c":"11","v":"r"},{"r":14,"c":"12a","v":"r"},{"r":14,"c":"14","v":"r"},{"r":14,"c":"16","v":"g"},{"r":14,"c":"17a","v":"r"},{"r":14,"c":"18a","v":"r"},{"r":14,"c":"18b","v":"r"},{"r":14,"c":"19a","v":"g"},{"r":14,"c":"19b","v":"g"},{"r":14,"c":"19d","v":"r"},{"r":14,"c":"19e","v":"r"},{"r":14,"c":"19f","v":"g"},{"r":14,"c":"20","v":"r"},{"r":14,"c":"21","v":"g"},{"r":14,"c":"22a","v":"g"},{"r":14,"c":"22b","v":"g"},{"r":14,"c":"22c","v":"g"},{"r":14,"c":"23","v":"g"},{"r":14,"c":"24b","v":"r"},{"r":14,"c":"24c","v":"r"},{"r":14,"c":"26a","v":"g"},{"r":14,"c":"26b","v":"r"},{"r":14,"c":"26c","v":"r"},{"r":14,"c":"27","v":"r"},{"r":14,"c":"28","v":"r"},{"r":14,"c":"30","v":"r"},
{"r":15,"c":"1","v":"g"},{"r":15,"c":"2","v":"g"},{"r":15,"c":"3a","v":"g"},{"r":15,"c":"3b","v":"g"},{"r":15,"c":"3c","v":"g"},{"r":15,"c":"4","v":"r"},{"r":15,"c":"5a","v":"g"},{"r":15,"c":"5c","v":"g"},{"r":15,"c":"5d","v":"r"},{"r":15,"c":"5e","v":"r"},{"r":15,"c":"6","v":"g"},{"r":15,"c":"7","v":"g"},{"r":15,"c":"8","v":"g"},{"r":15,"c":"9","v":"r"},{"r":15,"c":"10","v":"r"},{"r":15,"c":"13a","v":"r"},{"r":15,"c":"14","v":"r"},{"r":15,"c":"15","v":"b"},{"r":15,"c":"16","v":"g"},{"r":15,"c":"19a","v":"g"},{"r":15,"c":"19b","v":"g"},{"r":15,"c":"19c","v":"b"},{"r":15,"c":"19d","v":"r"},{"r":15,"c":"19e","v":"r"},{"r":15,"c":"19f","v":"g"},{"r":15,"c":"21","v":"g"},{"r":15,"c":"22a","v":"g"},{"r":15,"c":"22b","v":"g"},{"r":15,"c":"22c","v":"g"},{"r":15,"c":"23","v":"g"},{"r":15,"c":"24b","v":"r"},{"r":15,"c":"24c","v":"r"},{"r":15,"c":"26a","v":"g"},{"r":15,"c":"27","v":"r"},{"r":15,"c":"28","v":"r"},{"r":15,"c":"29","v":"g"},{"r":15,"c":"30","v":"r"},{"r":15,"c":"31a","v":"g"},{"r":15,"c":"T18C","v":"r"},{"r":15,"c":"T25A","v":"r"},{"r":15,"c":"T29","v":"g"},{"r":15,"c":"T30","v":"o"},
{"r":16,"c":"1","v":"g"},{"r":16,"c":"2","v":"g"},{"r":16,"c":"3a","v":"g"},{"r":16,"c":"5a","v":"g"},{"r":16,"c":"5b","v":"r"},{"r":16,"c":"5c","v":"g"},{"r":16,"c":"5d","v":"r"},{"r":16,"c":"5e","v":"r"},{"r":16,"c":"5f","v":"b"},{"r":16,"c":"6","v":"g"},{"r":16,"c":"7","v":"g"},{"r":16,"c":"8","v":"g"},{"r":16,"c":"9","v":"r"},{"r":16,"c":"11","v":"r"},{"r":16,"c":"12a","v":"r"},{"r":16,"c":"12b","v":"r"},{"r":16,"c":"12c","v":"b"},{"r":16,"c":"14","v":"r"},{"r":16,"c":"16","v":"g"},{"r":16,"c":"19a","v":"g"},{"r":16,"c":"19b","v":"g"},{"r":16,"c":"19d","v":"r"},{"r":16,"c":"19e","v":"r"},{"r":16,"c":"19f","v":"g"},{"r":16,"c":"20","v":"r"},{"r":16,"c":"21","v":"g"},{"r":16,"c":"22a","v":"g"},{"r":16,"c":"22b","v":"g"},{"r":16,"c":"22c","v":"g"},{"r":16,"c":"23","v":"g"},{"r":16,"c":"26a","v":"g"},{"r":16,"c":"28","v":"r"},{"r":16,"c":"29","v":"g"},{"r":16,"c":"31a","v":"g"},{"r":16,"c":"T12","v":"b"},{"r":16,"c":"T17A","v":"b"},{"r":16,"c":"T18C","v":"r"},{"r":16,"c":"T25A","v":"r"},{"r":16,"c":"T29","v":"g"},
{"r":17,"c":"1","v":"g"},{"r":17,"c":"2","v":"g"},{"r":17,"c":"3a","v":"g"},{"r":17,"c":"3b","v":"g"},{"r":17,"c":"3c","v":"g"},{"r":17,"c":"4","v":"r"},{"r":17,"c":"5a","v":"g"},{"r":17,"c":"5b","v":"r"},{"r":17,"c":"5c","v":"g"},{"r":17,"c":"5d","v":"r"},{"r":17,"c":"5e","v":"r"},{"r":17,"c":"5f","v":"b"},{"r":17,"c":"6","v":"g"},{"r":17,"c":"7","v":"g"},{"r":17,"c":"11","v":"r"},{"r":17,"c":"12a","v":"r"},{"r":17,"c":"12b","v":"r"},{"r":17,"c":"12c","v":"b"},{"r":17,"c":"14","v":"r"},{"r":17,"c":"16","v":"g"},{"r":17,"c":"19a","v":"g"},{"r":17,"c":"19b","v":"g"},{"r":17,"c":"19e","v":"r"},{"r":17,"c":"20","v":"r"},{"r":17,"c":"21","v":"g"},{"r":17,"c":"22a","v":"g"},{"r":17,"c":"22b","v":"g"},{"r":17,"c":"22c","v":"g"},{"r":17,"c":"23","v":"g"},{"r":17,"c":"24b","v":"r"},{"r":17,"c":"24c","v":"r"},{"r":17,"c":"26a","v":"g"},{"r":17,"c":"28","v":"r"},{"r":17,"c":"29","v":"g"},{"r":17,"c":"31a","v":"g"},{"r":17,"c":"T18C","v":"r"},{"r":17,"c":"T24A","v":"b"},{"r":17,"c":"T25A","v":"r"},{"r":17,"c":"T29","v":"g"},
{"r":18,"c":"1","v":"g"},{"r":18,"c":"2","v":"g"},{"r":18,"c":"3a","v":"g"},{"r":18,"c":"3b","v":"g"},{"r":18,"c":"5a","v":"g"},{"r":18,"c":"5c","v":"g"},{"r":18,"c":"5d","v":"r"},{"r":18,"c":"5e","v":"r"},{"r":18,"c":"5f","v":"b"},{"r":18,"c":"6","v":"g"},{"r":18,"c":"7","v":"g"},{"r":18,"c":"8","v":"g"},{"r":18,"c":"9","v":"r"},{"r":18,"c":"12a","v":"r"},{"r":18,"c":"12b","v":"r"},{"r":18,"c":"13a","v":"r"},{"r":18,"c":"13b","v":"b"},{"r":18,"c":"13c","v":"b"},{"r":18,"c":"14","v":"r"},{"r":18,"c":"16","v":"g"},{"r":18,"c":"18a","v":"r"},{"r":18,"c":"18b","v":"r"},{"r":18,"c":"19a","v":"g"},{"r":18,"c":"19b","v":"g"},{"r":18,"c":"19c","v":"b"},{"r":18,"c":"19d","v":"r"},{"r":18,"c":"19e","v":"r"},{"r":18,"c":"19f","v":"g"},{"r":18,"c":"21","v":"g"},{"r":18,"c":"22a","v":"g"},{"r":18,"c":"22b","v":"g"},{"r":18,"c":"22c","v":"g"},{"r":18,"c":"23","v":"g"},{"r":18,"c":"31a","v":"g"},{"r":18,"c":"T13","v":"b"},{"r":18,"c":"T17A","v":"b"},{"r":18,"c":"T18C","v":"r"},{"r":18,"c":"T25A","v":"r"},{"r":18,"c":"T29","v":"g"},
{"r":19,"c":"1","v":"g"},{"r":19,"c":"2","v":"g"},{"r":19,"c":"3a","v":"g"},{"r":19,"c":"5a","v":"g"},{"r":19,"c":"5c","v":"g"},{"r":19,"c":"5d","v":"r"},{"r":19,"c":"5e","v":"r"},{"r":19,"c":"6","v":"g"},{"r":19,"c":"7","v":"g"},{"r":19,"c":"8","v":"g"},{"r":19,"c":"10","v":"r"},{"r":19,"c":"11","v":"r"},{"r":19,"c":"16","v":"g"},{"r":19,"c":"18b","v":"r"},{"r":19,"c":"19a","v":"g"},{"r":19,"c":"19b","v":"g"},{"r":19,"c":"19d","v":"r"},{"r":19,"c":"19e","v":"r"},{"r":19,"c":"19f","v":"g"},{"r":19,"c":"20","v":"r"},{"r":19,"c":"21","v":"g"},{"r":19,"c":"22a","v":"g"},{"r":19,"c":"22b","v":"g"},{"r":19,"c":"22c","v":"g"},{"r":19,"c":"23","v":"g"},{"r":19,"c":"24b","v":"r"},{"r":19,"c":"24c","v":"r"},{"r":19,"c":"26a","v":"g"},{"r":19,"c":"26b","v":"r"},{"r":19,"c":"26c","v":"r"},{"r":19,"c":"27","v":"r"},{"r":19,"c":"28","v":"r"},{"r":19,"c":"29","v":"g"},{"r":19,"c":"31a","v":"g"},{"r":19,"c":"T0E","v":"b"},{"r":19,"c":"T0G","v":"b"},{"r":19,"c":"T18C","v":"r"},{"r":19,"c":"T25A","v":"r"},{"r":19,"c":"T29","v":"g"},
{"r":20,"c":"1","v":"g"},{"r":20,"c":"2","v":"g"},{"r":20,"c":"3a","v":"g"},{"r":20,"c":"3b","v":"g"},{"r":20,"c":"3c","v":"g"},{"r":20,"c":"5a","v":"g"},{"r":20,"c":"5b","v":"r"},{"r":20,"c":"5c","v":"g"},{"r":20,"c":"5d","v":"r"},{"r":20,"c":"5e","v":"r"},{"r":20,"c":"5f","v":"b"},{"r":20,"c":"6","v":"g"},{"r":20,"c":"7","v":"g"},{"r":20,"c":"10","v":"r"},{"r":20,"c":"12a","v":"r"},{"r":20,"c":"14","v":"r"},{"r":20,"c":"16","v":"g"},{"r":20,"c":"17a","v":"r"},{"r":20,"c":"19a","v":"g"},{"r":20,"c":"19b","v":"g"},{"r":20,"c":"19d","v":"r"},{"r":20,"c":"19e","v":"r"},{"r":20,"c":"19f","v":"g"},{"r":20,"c":"20","v":"r"},{"r":20,"c":"21","v":"g"},{"r":20,"c":"22a","v":"g"},{"r":20,"c":"22b","v":"g"},{"r":20,"c":"22c","v":"g"},{"r":20,"c":"23","v":"g"},{"r":20,"c":"24b","v":"r"},{"r":20,"c":"24c","v":"r"},{"r":20,"c":"26a","v":"g"},{"r":20,"c":"29","v":"g"},{"r":20,"c":"31a","v":"g"},{"r":20,"c":"T18C","v":"r"},{"r":20,"c":"T25A","v":"r"},{"r":20,"c":"T29","v":"g"},
{"r":21,"c":"1","v":"g"},{"r":21,"c":"2","v":"g"},{"r":21,"c":"3a","v":"g"},{"r":21,"c":"3b","v":"g"},{"r":21,"c":"3c","v":"g"},{"r":21,"c":"5a","v":"g"},{"r":21,"c":"5b","v":"r"},{"r":21,"c":"5c","v":"g"},{"r":21,"c":"5d","v":"r"},{"r":21,"c":"5e","v":"r"},{"r":21,"c":"6","v":"g"},{"r":21,"c":"7","v":"g"},{"r":21,"c":"8","v":"g"},{"r":21,"c":"9","v":"r"},{"r":21,"c":"13a","v":"r"},{"r":21,"c":"13b","v":"b"},{"r":21,"c":"13c","v":"b"},{"r":21,"c":"16","v":"g"},{"r":21,"c":"19a","v":"g"},{"r":21,"c":"19d","v":"r"},{"r":21,"c":"19e","v":"r"},{"r":21,"c":"19f","v":"g"},{"r":21,"c":"21","v":"g"},{"r":21,"c":"22a","v":"g"},{"r":21,"c":"22b","v":"g"},{"r":21,"c":"22c","v":"g"},{"r":21,"c":"23","v":"g"},{"r":21,"c":"26a","v":"g"},{"r":21,"c":"26b","v":"r"},{"r":21,"c":"26c","v":"r"},{"r":21,"c":"27","v":"r"},{"r":21,"c":"29","v":"g"},{"r":21,"c":"30","v":"r"},{"r":21,"c":"31a","v":"g"},{"r":21,"c":"T13","v":"b"},{"r":21,"c":"T29","v":"g"},
{"r":22,"c":"1","v":"g"},{"r":22,"c":"2","v":"g"},{"r":22,"c":"3a","v":"g"},{"r":22,"c":"3b","v":"g"},{"r":22,"c":"3c","v":"g"},{"r":22,"c":"6","v":"g"},{"r":22,"c":"7","v":"g"},{"r":22,"c":"8","v":"g"},{"r":22,"c":"9","v":"r"},{"r":22,"c":"11","v":"r"},{"r":22,"c":"12a","v":"r"},{"r":22,"c":"13a","v":"r"},{"r":22,"c":"13b","v":"b"},{"r":22,"c":"13c","v":"b"},{"r":22,"c":"14","v":"r"},{"r":22,"c":"16","v":"g"},{"r":22,"c":"18a","v":"r"},{"r":22,"c":"18b","v":"r"},{"r":22,"c":"19a","v":"g"},{"r":22,"c":"19b","v":"g"},{"r":22,"c":"19f","v":"g"},{"r":22,"c":"20","v":"r"},{"r":22,"c":"21","v":"g"},{"r":22,"c":"22a","v":"g"},{"r":22,"c":"22b","v":"g"},{"r":22,"c":"22c","v":"g"},{"r":22,"c":"23","v":"g"},{"r":22,"c":"26a","v":"g"},{"r":22,"c":"29","v":"g"},{"r":22,"c":"T0A","v":"b"},{"r":22,"c":"T0B","v":"b"},{"r":22,"c":"T13","v":"b"},{"r":22,"c":"T25A","v":"r"},{"r":22,"c":"T29","v":"g"},
{"r":23,"c":"1","v":"g"},{"r":23,"c":"2","v":"g"},{"r":23,"c":"3a","v":"g"},{"r":23,"c":"3b","v":"g"},{"r":23,"c":"3c","v":"g"},{"r":23,"c":"5a","v":"g"},{"r":23,"c":"5c","v":"g"},{"r":23,"c":"6","v":"g"},{"r":23,"c":"7","v":"g"},{"r":23,"c":"8","v":"g"},{"r":23,"c":"9","v":"r"},{"r":23,"c":"10","v":"r"},{"r":23,"c":"13a","v":"r"},{"r":23,"c":"14","v":"r"},{"r":23,"c":"16","v":"g"},{"r":23,"c":"17a","v":"r"},{"r":23,"c":"18a","v":"r"},{"r":23,"c":"18b","v":"r"},{"r":23,"c":"19a","v":"g"},{"r":23,"c":"19b","v":"g"},{"r":23,"c":"19d","v":"r"},{"r":23,"c":"19e","v":"r"},{"r":23,"c":"19f","v":"g"},{"r":23,"c":"21","v":"g"},{"r":23,"c":"22a","v":"g"},{"r":23,"c":"22b","v":"g"},{"r":23,"c":"22c","v":"g"},{"r":23,"c":"23","v":"g"},{"r":23,"c":"24b","v":"r"},{"r":23,"c":"24c","v":"r"},{"r":23,"c":"26b","v":"r"},{"r":23,"c":"30","v":"r"},{"r":23,"c":"31a","v":"g"},{"r":23,"c":"31b","v":"b"},
{"r":24,"c":"1","v":"g"},{"r":24,"c":"2","v":"g"},{"r":24,"c":"3a","v":"g"},{"r":24,"c":"3b","v":"g"},{"r":24,"c":"3c","v":"g"},{"r":24,"c":"5a","v":"g"},{"r":24,"c":"5c","v":"g"},{"r":24,"c":"5d","v":"r"},{"r":24,"c":"5e","v":"r"},{"r":24,"c":"6","v":"g"},{"r":24,"c":"7","v":"g"},{"r":24,"c":"8","v":"g"},{"r":24,"c":"10","v":"r"},{"r":24,"c":"12a","v":"r"},{"r":24,"c":"12b","v":"r"},{"r":24,"c":"16","v":"g"},{"r":24,"c":"19a","v":"g"},{"r":24,"c":"19b","v":"g"},{"r":24,"c":"19d","v":"r"},{"r":24,"c":"19e","v":"r"},{"r":24,"c":"21","v":"g"},{"r":24,"c":"22a","v":"g"},{"r":24,"c":"22b","v":"g"},{"r":24,"c":"22c","v":"g"},{"r":24,"c":"23","v":"g"},{"r":24,"c":"24c","v":"r"},{"r":24,"c":"26a","v":"g"},{"r":24,"c":"26b","v":"r"},{"r":24,"c":"26c","v":"r"},{"r":24,"c":"29","v":"g"},{"r":24,"c":"30","v":"r"},{"r":24,"c":"31a","v":"g"},{"r":24,"c":"T18C","v":"r"},{"r":24,"c":"T29","v":"g"},
{"r":25,"c":"1","v":"g"},{"r":25,"c":"3a","v":"g"},{"r":25,"c":"3b","v":"g"},{"r":25,"c":"3c","v":"g"},{"r":25,"c":"5a","v":"g"},{"r":25,"c":"5b","v":"r"},{"r":25,"c":"5c","v":"g"},{"r":25,"c":"5d","v":"r"},{"r":25,"c":"5e","v":"r"},{"r":25,"c":"6","v":"g"},{"r":25,"c":"7","v":"g"},{"r":25,"c":"12a","v":"r"},{"r":25,"c":"12b","v":"r"},{"r":25,"c":"14","v":"r"},{"r":25,"c":"18a","v":"r"},{"r":25,"c":"19a","v":"g"},{"r":25,"c":"19b","v":"g"},{"r":25,"c":"19c","v":"b"},{"r":25,"c":"19d","v":"r"},{"r":25,"c":"19f","v":"g"},{"r":25,"c":"21","v":"g"},{"r":25,"c":"22a","v":"g"},{"r":25,"c":"22b","v":"g"},{"r":25,"c":"23","v":"g"},{"r":25,"c":"26a","v":"g"},{"r":25,"c":"T0G","v":"b"},{"r":25,"c":"T0H","v":"b"},{"r":25,"c":"T18C","v":"r"},{"r":25,"c":"T25A","v":"r"},{"r":25,"c":"T29","v":"g"},
{"r":26,"c":"1","v":"g"},{"r":26,"c":"2","v":"g"},{"r":26,"c":"3a","v":"g"},{"r":26,"c":"3b","v":"g"},{"r":26,"c":"3c","v":"g"},{"r":26,"c":"5a","v":"g"},{"r":26,"c":"5c","v":"g"},{"r":26,"c":"5d","v":"r"},{"r":26,"c":"5e","v":"r"},{"r":26,"c":"6","v":"g"},{"r":26,"c":"7","v":"g"},{"r":26,"c":"8","v":"g"},{"r":26,"c":"10","v":"r"},{"r":26,"c":"12a","v":"r"},{"r":26,"c":"12b","v":"r"},{"r":26,"c":"16","v":"g"},{"r":26,"c":"18a","v":"r"},{"r":26,"c":"19a","v":"g"},{"r":26,"c":"19b","v":"g"},{"r":26,"c":"19d","v":"r"},{"r":26,"c":"21","v":"g"},{"r":26,"c":"22a","v":"g"},{"r":26,"c":"22b","v":"g"},{"r":26,"c":"22c","v":"g"},{"r":26,"c":"23","v":"g"},{"r":26,"c":"24c","v":"r"},{"r":26,"c":"26a","v":"g"},{"r":26,"c":"29","v":"g"},{"r":26,"c":"30","v":"r"},{"r":26,"c":"31a","v":"g"},
{"r":27,"c":"1","v":"g"},{"r":27,"c":"2","v":"g"},{"r":27,"c":"3a","v":"g"},{"r":27,"c":"3b","v":"g"},{"r":27,"c":"3c","v":"g"},{"r":27,"c":"4","v":"r"},{"r":27,"c":"5a","v":"g"},{"r":27,"c":"5b","v":"r"},{"r":27,"c":"5c","v":"g"},{"r":27,"c":"5d","v":"r"},{"r":27,"c":"5e","v":"r"},{"r":27,"c":"6","v":"g"},{"r":27,"c":"7","v":"g"},{"r":27,"c":"8","v":"g"},{"r":27,"c":"12a","v":"r"},{"r":27,"c":"12b","v":"r"},{"r":27,"c":"16","v":"g"},{"r":27,"c":"19e","v":"r"},{"r":27,"c":"19f","v":"g"},{"r":27,"c":"21","v":"g"},{"r":27,"c":"22a","v":"g"},{"r":27,"c":"22b","v":"g"},{"r":27,"c":"22c","v":"g"},{"r":27,"c":"23","v":"g"},{"r":27,"c":"26a","v":"g"},{"r":27,"c":"27","v":"r"},{"r":27,"c":"29","v":"g"},{"r":27,"c":"31a","v":"g"},{"r":27,"c":"31b","v":"b"},
{"r":28,"c":"2","v":"g"},{"r":28,"c":"3a","v":"g"},{"r":28,"c":"3b","v":"g"},{"r":28,"c":"3c","v":"g"},{"r":28,"c":"5a","v":"g"},{"r":28,"c":"5c","v":"g"},{"r":28,"c":"6","v":"g"},{"r":28,"c":"7","v":"g"},{"r":28,"c":"12a","v":"r"},{"r":28,"c":"14","v":"r"},{"r":28,"c":"16","v":"g"},{"r":28,"c":"18a","v":"r"},{"r":28,"c":"19a","v":"g"},{"r":28,"c":"19b","v":"g"},{"r":28,"c":"19e","v":"r"},{"r":28,"c":"19f","v":"g"},{"r":28,"c":"21","v":"g"},{"r":28,"c":"22a","v":"g"},{"r":28,"c":"22b","v":"g"},{"r":28,"c":"22c","v":"g"},{"r":28,"c":"23","v":"g"},{"r":28,"c":"26a","v":"g"},{"r":28,"c":"26b","v":"r"},{"r":28,"c":"26c","v":"r"},{"r":28,"c":"29","v":"g"},{"r":28,"c":"30","v":"r"},{"r":28,"c":"31a","v":"g"},{"r":28,"c":"T18C","v":"r"},{"r":28,"c":"T25A","v":"r"},{"r":28,"c":"T29","v":"g"},
{"r":29,"c":"1","v":"g"},{"r":29,"c":"2","v":"g"},{"r":29,"c":"3a","v":"g"},{"r":29,"c":"3b","v":"g"},{"r":29,"c":"3c","v":"g"},{"r":29,"c":"5a","v":"g"},{"r":29,"c":"6","v":"g"},{"r":29,"c":"7","v":"g"},{"r":29,"c":"8","v":"g"},{"r":29,"c":"10","v":"r"},{"r":29,"c":"16","v":"g"},{"r":29,"c":"18a","v":"r"},{"r":29,"c":"19f","v":"g"},{"r":29,"c":"20","v":"r"},{"r":29,"c":"21","v":"g"},{"r":29,"c":"22a","v":"g"},{"r":29,"c":"22b","v":"g"},{"r":29,"c":"22c","v":"g"},{"r":29,"c":"23","v":"g"},{"r":29,"c":"26a","v":"g"},{"r":29,"c":"26b","v":"r"},{"r":29,"c":"26c","v":"r"},{"r":29,"c":"T18C","v":"r"},{"r":29,"c":"T25A","v":"r"},{"r":29,"c":"T29","v":"g"},
{"r":30,"c":"3a","v":"g"},{"r":30,"c":"5a","v":"g"},{"r":30,"c":"5c","v":"g"},{"r":30,"c":"5d","v":"r"},{"r":30,"c":"5e","v":"r"},{"r":30,"c":"6","v":"g"},{"r":30,"c":"7","v":"g"},{"r":30,"c":"9","v":"r"},{"r":30,"c":"16","v":"g"},{"r":30,"c":"18b","v":"r"},{"r":30,"c":"19a","v":"g"},{"r":30,"c":"19b","v":"g"},{"r":30,"c":"21","v":"g"},{"r":30,"c":"22a","v":"g"},{"r":30,"c":"22b","v":"g"},{"r":30,"c":"23","v":"g"},{"r":30,"c":"26a","v":"g"},{"r":30,"c":"26b","v":"r"},{"r":30,"c":"26c","v":"r"},{"r":30,"c":"27","v":"r"},{"r":30,"c":"31a","v":"g"},{"r":30,"c":"T0G","v":"b"},
{"r":31,"c":"1","v":"g"},{"r":31,"c":"2","v":"g"},{"r":31,"c":"3a","v":"g"},{"r":31,"c":"5a","v":"g"},{"r":31,"c":"5c","v":"g"},{"r":31,"c":"6","v":"g"},{"r":31,"c":"7","v":"g"},{"r":31,"c":"8","v":"g"},{"r":31,"c":"10","v":"r"},{"r":31,"c":"14","v":"r"},{"r":31,"c":"19a","v":"g"},{"r":31,"c":"19b","v":"g"},{"r":31,"c":"19c","v":"b"},{"r":31,"c":"19e","v":"r"},{"r":31,"c":"19f","v":"g"},{"r":31,"c":"21","v":"g"},{"r":31,"c":"22a","v":"g"},{"r":31,"c":"22b","v":"g"},{"r":31,"c":"28","v":"r"},{"r":31,"c":"T18C","v":"r"},
{"r":32,"c":"1","v":"g"},{"r":32,"c":"2","v":"g"},{"r":32,"c":"3a","v":"g"},{"r":32,"c":"3b","v":"g"},{"r":32,"c":"3c","v":"g"},{"r":32,"c":"4","v":"r"},{"r":32,"c":"5a","v":"g"},{"r":32,"c":"5b","v":"r"},{"r":32,"c":"5c","v":"g"},{"r":32,"c":"6","v":"g"},{"r":32,"c":"7","v":"g"},{"r":32,"c":"11","v":"r"},{"r":32,"c":"16","v":"g"},{"r":32,"c":"19a","v":"g"},{"r":32,"c":"19b","v":"g"},{"r":32,"c":"19f","v":"g"},{"r":32,"c":"21","v":"g"},{"r":32,"c":"22a","v":"g"},{"r":32,"c":"22b","v":"g"},{"r":32,"c":"23","v":"g"},{"r":32,"c":"26a","v":"g"},{"r":32,"c":"29","v":"g"},{"r":32,"c":"31a","v":"g"},{"r":32,"c":"T18C","v":"r"},
{"r":33,"c":"3a","v":"g"},{"r":33,"c":"3b","v":"g"},{"r":33,"c":"3c","v":"g"},{"r":33,"c":"5c","v":"g"},{"r":33,"c":"6","v":"g"},{"r":33,"c":"7","v":"g"},{"r":33,"c":"8","v":"g"},{"r":33,"c":"12a","v":"r"},{"r":33,"c":"12b","v":"r"},{"r":33,"c":"16","v":"g"},{"r":33,"c":"19a","v":"g"},{"r":33,"c":"19b","v":"g"},{"r":33,"c":"19d","v":"r"},{"r":33,"c":"19f","v":"g"},{"r":33,"c":"21","v":"g"},{"r":33,"c":"22a","v":"g"},{"r":33,"c":"22b","v":"g"},{"r":33,"c":"22c","v":"g"},{"r":33,"c":"23","v":"g"},{"r":33,"c":"29","v":"g"},{"r":33,"c":"T29","v":"g"},
{"r":34,"c":"1","v":"g"},{"r":34,"c":"2","v":"g"},{"r":34,"c":"3a","v":"g"},{"r":34,"c":"3b","v":"g"},{"r":34,"c":"3c","v":"g"},{"r":34,"c":"6","v":"g"},{"r":34,"c":"7","v":"g"},{"r":34,"c":"9","v":"r"},{"r":34,"c":"14","v":"r"},{"r":34,"c":"19a","v":"g"},{"r":34,"c":"19b","v":"g"},{"r":34,"c":"19f","v":"g"},{"r":34,"c":"20","v":"r"},{"r":34,"c":"22a","v":"g"},{"r":34,"c":"22b","v":"g"},{"r":34,"c":"22c","v":"g"},{"r":34,"c":"23","v":"g"},{"r":34,"c":"29","v":"g"},{"r":34,"c":"T29","v":"g"},
{"r":35,"c":"2","v":"g"},{"r":35,"c":"3a","v":"g"},{"r":35,"c":"3b","v":"g"},{"r":35,"c":"7","v":"g"},{"r":35,"c":"10","v":"r"},{"r":35,"c":"12a","v":"r"},{"r":35,"c":"14","v":"r"},{"r":35,"c":"16","v":"g"},{"r":35,"c":"21","v":"g"},{"r":35,"c":"22a","v":"g"},{"r":35,"c":"22b","v":"g"},{"r":35,"c":"22c","v":"g"},{"r":35,"c":"23","v":"g"},{"r":35,"c":"26a","v":"g"},{"r":35,"c":"28","v":"r"},{"r":35,"c":"29","v":"g"},{"r":35,"c":"31a","v":"g"},{"r":35,"c":"31b","v":"b"},
{"r":36,"c":"1","v":"g"},{"r":36,"c":"2","v":"g"},{"r":36,"c":"3a","v":"g"},{"r":36,"c":"7","v":"g"},{"r":36,"c":"8","v":"g"},{"r":36,"c":"9","v":"r"},{"r":36,"c":"19a","v":"g"},{"r":36,"c":"19b","v":"g"},{"r":36,"c":"19d","v":"r"},{"r":36,"c":"19e","v":"r"},{"r":36,"c":"19f","v":"g"},{"r":36,"c":"21","v":"g"},{"r":36,"c":"22a","v":"g"},{"r":36,"c":"22b","v":"g"},{"r":36,"c":"22c","v":"g"},{"r":36,"c":"30","v":"r"},{"r":36,"c":"T18C","v":"r"},{"r":36,"c":"T29","v":"g"},
{"r":37,"c":"1","v":"g"},{"r":37,"c":"3a","v":"g"},{"r":37,"c":"5a","v":"g"},{"r":37,"c":"6","v":"g"},{"r":37,"c":"7","v":"g"},{"r":37,"c":"19a","v":"g"},{"r":37,"c":"19b","v":"g"},{"r":37,"c":"19c","v":"b"},{"r":37,"c":"19d","v":"r"},{"r":37,"c":"19e","v":"r"},{"r":37,"c":"19f","v":"g"},{"r":37,"c":"22a","v":"g"},{"r":37,"c":"22b","v":"g"},{"r":37,"c":"22c","v":"g"},{"r":37,"c":"29","v":"g"},{"r":37,"c":"T0G","v":"b"},{"r":37,"c":"T29","v":"g"},
{"r":38,"c":"1","v":"g"},{"r":38,"c":"2","v":"g"},{"r":38,"c":"3a","v":"g"},{"r":38,"c":"3b","v":"g"},{"r":38,"c":"3c","v":"g"},{"r":38,"c":"6","v":"g"},{"r":38,"c":"7","v":"g"},{"r":38,"c":"9","v":"r"},{"r":38,"c":"14","v":"r"},{"r":38,"c":"19a","v":"g"},{"r":38,"c":"20","v":"r"},{"r":38,"c":"22a","v":"g"},{"r":38,"c":"22b","v":"g"},{"r":38,"c":"22c","v":"g"},{"r":38,"c":"23","v":"g"},{"r":38,"c":"26a","v":"g"},{"r":38,"c":"T29","v":"g"},
{"r":39,"c":"1","v":"g"},{"r":39,"c":"2","v":"g"},{"r":39,"c":"3a","v":"g"},{"r":39,"c":"5a","v":"g"},{"r":39,"c":"5c","v":"g"},{"r":39,"c":"6","v":"g"},{"r":39,"c":"7","v":"g"},{"r":39,"c":"8","v":"g"},{"r":39,"c":"16","v":"g"},{"r":39,"c":"19a","v":"g"},{"r":39,"c":"19b","v":"g"},{"r":39,"c":"19d","v":"r"},{"r":39,"c":"21","v":"g"},{"r":39,"c":"22a","v":"g"},{"r":39,"c":"22b","v":"g"},{"r":39,"c":"23","v":"g"},{"r":39,"c":"29","v":"g"},{"r":39,"c":"T29","v":"g"},
{"r":40,"c":"1","v":"g"},{"r":40,"c":"3a","v":"g"},{"r":40,"c":"3b","v":"g"},{"r":40,"c":"3c","v":"g"},{"r":40,"c":"6","v":"g"},{"r":40,"c":"7","v":"g"},{"r":40,"c":"8","v":"g"},{"r":40,"c":"11","v":"r"},{"r":40,"c":"19a","v":"g"},{"r":40,"c":"19b","v":"g"},{"r":40,"c":"22a","v":"g"},{"r":40,"c":"22b","v":"g"},{"r":40,"c":"22c","v":"g"},{"r":40,"c":"23","v":"g"},{"r":40,"c":"29","v":"g"},{"r":40,"c":"T29","v":"g"},
{"r":41,"c":"1","v":"g"},{"r":41,"c":"3a","v":"g"},{"r":41,"c":"6","v":"g"},{"r":41,"c":"7","v":"g"},{"r":41,"c":"8","v":"g"},{"r":41,"c":"10","v":"r"},{"r":41,"c":"16","v":"g"},{"r":41,"c":"19a","v":"g"},{"r":41,"c":"19b","v":"g"},{"r":41,"c":"22a","v":"g"},{"r":41,"c":"22b","v":"g"},{"r":41,"c":"22c","v":"g"},{"r":41,"c":"23","v":"g"},{"r":41,"c":"30","v":"r"},{"r":41,"c":"31a","v":"g"},
{"r":42,"c":"1","v":"g"},{"r":42,"c":"2","v":"g"},{"r":42,"c":"3a","v":"g"},{"r":42,"c":"6","v":"g"},{"r":42,"c":"7","v":"g"},{"r":42,"c":"8","v":"g"},{"r":42,"c":"11","v":"r"},{"r":42,"c":"17a","v":"r"},{"r":42,"c":"21","v":"g"},{"r":42,"c":"22a","v":"g"},{"r":42,"c":"22b","v":"g"},{"r":42,"c":"23","v":"g"},{"r":42,"c":"26a","v":"g"},{"r":42,"c":"T18C","v":"r"},{"r":42,"c":"T29","v":"g"},
{"r":43,"c":"3a","v":"g"},{"r":43,"c":"6","v":"g"},{"r":43,"c":"8","v":"g"},{"r":43,"c":"14","v":"r"},{"r":43,"c":"19f","v":"g"},{"r":43,"c":"22a","v":"g"},{"r":43,"c":"22b","v":"g"},{"r":43,"c":"22c","v":"g"},{"r":43,"c":"23","v":"g"},{"r":43,"c":"26b","v":"r"},{"r":43,"c":"31a","v":"g"},{"r":43,"c":"T25A","v":"r"},{"r":43,"c":"T29","v":"g"},
{"r":44,"c":"1","v":"g"},{"r":44,"c":"3a","v":"g"},{"r":44,"c":"3b","v":"g"},{"r":44,"c":"3c","v":"g"},{"r":44,"c":"6","v":"g"},{"r":44,"c":"7","v":"g"},{"r":44,"c":"12a","v":"r"},{"r":44,"c":"16","v":"g"},{"r":44,"c":"19c","v":"b"},{"r":44,"c":"21","v":"g"},{"r":44,"c":"22a","v":"g"},{"r":44,"c":"22b","v":"g"},{"r":44,"c":"23","v":"g"},{"r":44,"c":"29","v":"g"},{"r":44,"c":"31a","v":"g"},
{"r":45,"c":"3a","v":"g"},{"r":45,"c":"5a","v":"g"},{"r":45,"c":"5c","v":"g"},{"r":45,"c":"6","v":"g"},{"r":45,"c":"8","v":"g"},{"r":45,"c":"12a","v":"r"},{"r":45,"c":"16","v":"g"},{"r":45,"c":"19a","v":"g"},{"r":45,"c":"19b","v":"g"},{"r":45,"c":"22a","v":"g"},{"r":45,"c":"22b","v":"g"},{"r":45,"c":"22c","v":"g"},{"r":45,"c":"23","v":"g"},
{"r":46,"c":"1","v":"g"},{"r":46,"c":"2","v":"g"},{"r":46,"c":"3a","v":"g"},{"r":46,"c":"3b","v":"g"},{"r":46,"c":"4","v":"r"},{"r":46,"c":"5a","v":"g"},{"r":46,"c":"5c","v":"g"},{"r":46,"c":"6","v":"g"},{"r":46,"c":"7","v":"g"},{"r":46,"c":"10","v":"r"},{"r":46,"c":"16","v":"g"},{"r":46,"c":"22a","v":"g"},{"r":46,"c":"23","v":"g"},{"r":46,"c":"26a","v":"g"},{"r":46,"c":"31a","v":"g"},
{"r":47,"c":"1","v":"g"},{"r":47,"c":"2","v":"g"},{"r":47,"c":"3a","v":"g"},{"r":47,"c":"3b","v":"g"},{"r":47,"c":"3c","v":"g"},{"r":47,"c":"5c","v":"g"},{"r":47,"c":"6","v":"g"},{"r":47,"c":"7","v":"g"},{"r":47,"c":"8","v":"g"},{"r":47,"c":"19a","v":"g"},{"r":47,"c":"19b","v":"g"},{"r":47,"c":"19f","v":"g"},{"r":47,"c":"21","v":"g"},{"r":47,"c":"22a","v":"g"},{"r":47,"c":"23","v":"g"},{"r":47,"c":"31a","v":"g"},
{"r":48,"c":"2","v":"g"},{"r":48,"c":"3a","v":"g"},{"r":48,"c":"5a","v":"g"},{"r":48,"c":"5d","v":"r"},{"r":48,"c":"5e","v":"r"},{"r":48,"c":"6","v":"g"},{"r":48,"c":"7","v":"g"},{"r":48,"c":"21","v":"g"},{"r":48,"c":"22a","v":"g"},{"r":48,"c":"22b","v":"g"},{"r":48,"c":"22c","v":"g"},{"r":48,"c":"26a","v":"g"},
{"r":49,"c":"3a","v":"g"},{"r":49,"c":"6","v":"g"},{"r":49,"c":"7","v":"g"},{"r":49,"c":"12a","v":"r"},{"r":49,"c":"18a","v":"r"},{"r":49,"c":"18b","v":"r"},{"r":49,"c":"19e","v":"r"},{"r":49,"c":"21","v":"g"},{"r":49,"c":"22a","v":"g"},{"r":49,"c":"22b","v":"g"},{"r":49,"c":"22c","v":"g"},{"r":49,"c":"26a","v":"g"},
{"r":50,"c":"1","v":"g"},{"r":50,"c":"2","v":"g"},{"r":50,"c":"3a","v":"g"},{"r":50,"c":"3b","v":"g"},{"r":50,"c":"8","v":"g"},{"r":50,"c":"19a","v":"g"},{"r":50,"c":"19b","v":"g"},{"r":50,"c":"19e","v":"r"},{"r":50,"c":"19f","v":"g"},{"r":50,"c":"21","v":"g"},{"r":50,"c":"22a","v":"g"},{"r":50,"c":"22b","v":"g"},{"r":50,"c":"22c","v":"g"},{"r":50,"c":"23","v":"g"},{"r":50,"c":"26a","v":"g"},
{"r":51,"c":"1","v":"g"},{"r":51,"c":"3a","v":"g"},{"r":51,"c":"5c","v":"g"},{"r":51,"c":"7","v":"g"},{"r":51,"c":"14","v":"r"},{"r":51,"c":"16","v":"g"},{"r":51,"c":"19a","v":"g"},{"r":51,"c":"19f","v":"g"},{"r":51,"c":"22a","v":"g"},{"r":51,"c":"22b","v":"g"},{"r":51,"c":"22c","v":"g"},{"r":51,"c":"23","v":"g"},{"r":51,"c":"29","v":"g"},
{"r":52,"c":"1","v":"g"},{"r":52,"c":"3a","v":"g"},{"r":52,"c":"5a","v":"g"},{"r":52,"c":"6","v":"g"},{"r":52,"c":"7","v":"g"},{"r":52,"c":"18a","v":"r"},{"r":52,"c":"21","v":"g"},{"r":52,"c":"23","v":"g"},{"r":52,"c":"26a","v":"g"},{"r":52,"c":"26c","v":"r"},{"r":52,"c":"27","v":"r"},{"r":52,"c":"T29","v":"g"},
{"r":53,"c":"2","v":"g"},{"r":53,"c":"6","v":"g"},{"r":53,"c":"17a","v":"r"},{"r":53,"c":"19a","v":"g"},{"r":53,"c":"19b","v":"g"},{"r":53,"c":"26a","v":"g"},{"r":53,"c":"26b","v":"r"},{"r":53,"c":"26c","v":"r"},{"r":53,"c":"28","v":"r"},
{"r":54,"c":"1","v":"g"},{"r":54,"c":"2","v":"g"},{"r":54,"c":"3a","v":"g"},{"r":54,"c":"6","v":"g"},{"r":54,"c":"7","v":"g"},{"r":54,"c":"18a","v":"r"},{"r":54,"c":"19a","v":"g"},{"r":54,"c":"19b","v":"g"},{"r":54,"c":"22a","v":"g"},{"r":54,"c":"22b","v":"g"},{"r":54,"c":"23","v":"g"},{"r":54,"c":"29","v":"g"},
{"r":55,"c":"1","v":"g"},{"r":55,"c":"2","v":"g"},{"r":55,"c":"3a","v":"g"},{"r":55,"c":"3b","v":"g"},{"r":55,"c":"3c","v":"g"},{"r":55,"c":"6","v":"g"},{"r":55,"c":"7","v":"g"},{"r":55,"c":"8","v":"g"},{"r":55,"c":"21","v":"g"},{"r":55,"c":"22a","v":"g"},{"r":55,"c":"31a","v":"g"},{"r":55,"c":"T29","v":"g"},
{"r":56,"c":"1","v":"g"},{"r":56,"c":"2","v":"g"},{"r":56,"c":"3a","v":"g"},{"r":56,"c":"7","v":"g"},{"r":56,"c":"9","v":"r"},{"r":56,"c":"19a","v":"g"},{"r":56,"c":"19b","v":"g"},{"r":56,"c":"21","v":"g"},{"r":56,"c":"22a","v":"g"},{"r":56,"c":"22b","v":"g"},{"r":56,"c":"22c","v":"g"},
{"r":57,"c":"2","v":"g"},{"r":57,"c":"3a","v":"g"},{"r":57,"c":"3b","v":"g"},{"r":57,"c":"6","v":"g"},{"r":57,"c":"8","v":"g"},{"r":57,"c":"16","v":"g"},{"r":57,"c":"19a","v":"g"},{"r":57,"c":"19b","v":"g"},{"r":57,"c":"19f","v":"g"},{"r":57,"c":"21","v":"g"},{"r":57,"c":"22a","v":"g"},{"r":57,"c":"23","v":"g"},
{"r":58,"c":"1","v":"g"},{"r":58,"c":"2","v":"g"},{"r":58,"c":"3a","v":"g"},{"r":58,"c":"16","v":"g"},{"r":58,"c":"19f","v":"g"},{"r":58,"c":"21","v":"g"},{"r":58,"c":"22a","v":"g"},{"r":58,"c":"22b","v":"g"},{"r":58,"c":"22c","v":"g"},{"r":58,"c":"23","v":"g"},{"r":58,"c":"26a","v":"g"},
{"r":59,"c":"1","v":"g"},{"r":59,"c":"8","v":"g"},{"r":59,"c":"18a","v":"r"},{"r":59,"c":"18b","v":"r"},{"r":59,"c":"22a","v":"g"},{"r":59,"c":"22b","v":"g"},
{"r":60,"c":"3a","v":"g"},{"r":60,"c":"3b","v":"g"},{"r":60,"c":"7","v":"g"},{"r":60,"c":"10","v":"r"},{"r":60,"c":"19f","v":"g"},{"r":60,"c":"22a","v":"g"},{"r":60,"c":"22b","v":"g"},{"r":60,"c":"23","v":"g"},
{"r":61,"c":"1","v":"g"},{"r":61,"c":"2","v":"g"},{"r":61,"c":"3a","v":"g"},{"r":61,"c":"3b","v":"g"},{"r":61,"c":"22a","v":"g"},{"r":61,"c":"22b","v":"g"},{"r":61,"c":"T29","v":"g"},
{"r":62,"c":"1","v":"g"},{"r":62,"c":"3a","v":"g"},{"r":62,"c":"5a","v":"g"},{"r":62,"c":"22a","v":"g"},{"r":62,"c":"22b","v":"g"},{"r":62,"c":"23","v":"g"},
{"r":63,"c":"1","v":"g"},{"r":63,"c":"2","v":"g"},{"r":63,"c":"3a","v":"g"},{"r":63,"c":"7","v":"g"},{"r":63,"c":"21","v":"g"},{"r":63,"c":"22a","v":"g"},{"r":63,"c":"23","v":"g"},
{"r":64,"c":"22a","v":"g"},{"r":64,"c":"22b","v":"g"},{"r":64,"c":"28","v":"r"},{"r":64,"c":"T29","v":"g"},
{"r":65,"c":"1","v":"g"},{"r":65,"c":"3a","v":"g"},{"r":65,"c":"3b","v":"g"},{"r":65,"c":"3c","v":"g"},{"r":65,"c":"29","v":"g"},
{"r":66,"c":"3a","v":"g"},{"r":66,"c":"6","v":"g"},{"r":66,"c":"7","v":"g"},{"r":66,"c":"19a","v":"g"},{"r":66,"c":"19b","v":"g"},{"r":66,"c":"T29","v":"g"},
{"r":67,"c":"1","v":"g"},{"r":67,"c":"2","v":"g"},{"r":67,"c":"3a","v":"g"},{"r":67,"c":"19a","v":"g"},{"r":67,"c":"19b","v":"g"},{"r":67,"c":"23","v":"g"},
{"r":68,"c":"3a","v":"g"},{"r":68,"c":"7","v":"g"},{"r":68,"c":"19a","v":"g"},{"r":68,"c":"22a","v":"g"},{"r":68,"c":"23","v":"g"},
{"r":69,"c":"3a","v":"g"},{"r":69,"c":"8","v":"g"},
{"r":70,"c":"3a","v":"g"},{"r":70,"c":"8","v":"g"},
{"r":71,"c":"2","v":"g"},{"r":71,"c":"3a","v":"g"},{"r":71,"c":"3b","v":"g"},
{"r":72,"c":"1","v":"g"},{"r":72,"c":"3a","v":"g"},{"r":72,"c":"23","v":"g"},
{"r":73,"c":"3a","v":"g"},{"r":73,"c":"29","v":"g"},
{"r":74,"c":"1","v":"g"},{"r":74,"c":"3a","v":"g"},{"r":74,"c":"22a","v":"g"},
{"r":75,"c":"3a","v":"g"},{"r":75,"c":"3b","v":"g"},
{"r":76,"c":"3a","v":"g"},{"r":76,"c":"3b","v":"g"},
{"r":77,"c":"1","v":"g"},{"r":77,"c":"3a","v":"g"},
{"r":78,"c":"1","v":"g"},{"r":78,"c":"2","v":"g"},
{"r":79,"c":"1","v":"g"},
{"r":80,"c":"3a","v":"g"},
{"r":81,"c":"3a","v":"g"}
]},
"mark": {"type": "circle", "size": 20, "opacity": 1},
"encoding": {
"x": {"field": "c", "type": "nominal",
"scale": {"type": "band", "paddingInner": 0, "paddingOuter": 0, "domain": ["1","2","3a","3b","3c","4","5a","5b","5c","5d","5e","5f","6","7","8","9","10","11","12a","12b","12c","13a","13b","13c","14","15","16","17a","17b","18a","18b","18c","19a","19b","19c","19d","19e","19f","20","21","22a","22b","22c","23","24a","24b","24c","24d","25","26a","26b","26c","27","28","29","30","31a","31b","T0A","T0B","T0C","T0D","T0E","T0F","T0G","T0H","T0I","T11","T12","T13","T16","T17A","T17B","T17C","T18A","T18B","T18C","T24A","T24B","T24C","T25A","T25B","T28","T29","T30"]},
"axis": {"orient": "top", "title": null, "domain": false, "bandPosition": 0,
"labelAngle": 90, "labelAlign": "right", "labelBaseline": "middle", "labelFont": "DejaVu Sans", "labelFontSize": 8, "labelColor": "#333333", "labelPadding": -23,
"ticks": true, "tickSize": 31.3, "tickColor": "#999999", "tickDash": [1, 2], "tickWidth": 1,
"tickOpacity": {"condition": {"test": "indexof(['2','3a','4','5a','6','7','8','9','10','11','12a','13a','14','15','16','17a','18a','19a','20','21','22a','23','24a','25','26a','27','28','29','30','31a','T0A','T11','T12','T13','T16','T17A','T18A','T24A','T25A','T28','T29','T30'], datum.value) >= 0", "value": 1}, "value": 0},
"grid": true, "gridColor": "#999999", "gridDash": [1, 2], "gridWidth": 1,
"gridOpacity": {"condition": {"test": "indexof(['2','3a','4','5a','6','7','8','9','10','11','12a','13a','14','15','16','17a','18a','19a','20','21','22a','23','24a','25','26a','27','28','29','30','31a','T0A','T11','T12','T13','T16','T17A','T18A','T24A','T25A','T28','T29','T30'], datum.value) >= 0", "value": 1}, "value": 0}
}},
"y": {"field": "r", "type": "ordinal",
"scale": {"type": "band", "paddingInner": 0, "paddingOuter": 0, "domain": [1,2,3,4,5,6,7,8,9,10,11,12,13,14,15,16,17,18,19,20,21,22,23,24,25,26,27,28,29,30,31,32,33,34,35,36,37,38,39,40,41,42,43,44,45,46,47,48,49,50,51,52,53,54,55,56,57,58,59,60,61,62,63,64,65,66,67,68,69,70,71,72,73,74,75,76,77,78,79,80,81,82]},
"axis": {"orient": "left", "title": null, "domain": false, "bandPosition": 0,
"labelExpr": "['1e','2e','3e','4e','5e','6e','7e','8e','9e','10e','11e','12e','13e','14e','15e','16e','17e','18e','19e','20e','21e','22e','23e','24e','25e','26e','27e','28e','29e','30e','31e','31e','33e','34e','35e','36e','37e','37e','39e','39e','41e','42e','42e','44e','44e','46e','46e','46e','46e','46e','51e','52e','53e','54e','54e','54e','57e','58e','59e','60e','61e','61e','63e','63e','63e','63e','67e','68e','69e','69e','71e','71e','71e','71e','75e','75e','75e','75e','79e','79e','79e','82e'][datum.value - 1]",
"labelFont": "DejaVu Sans", "labelFontSize": 8, "labelAlign": "right", "labelBaseline": "middle",
"labelColor": {"condition": {"test": "datum.value == 1 || datum.value % 10 == 0", "value": "#222222"}, "value": "#aaaaaa"},
"labelPadding": -18,
"ticks": true, "tickSize": 26.6, "tickColor": "#999999", "tickDash": [1, 2], "tickWidth": 1,
"tickOpacity": {"condition": {"test": "datum.value > 1 && datum.value % 10 == 1", "value": 1}, "value": 0},
"grid": true, "gridColor": "#999999", "gridDash": [1, 2], "gridWidth": 1,
"gridOpacity": {"condition": {"test": "datum.value > 1 && datum.value % 10 == 1", "value": 1}, "value": 0}
}},
"color": {"field": "v", "type": "nominal", "legend": null,
"scale": {"domain": ["g","r","b","o","y"], "range": ["#cccccc","#ff0000","#8080ff","#ffa500","#ffd700"]}}
}
}
